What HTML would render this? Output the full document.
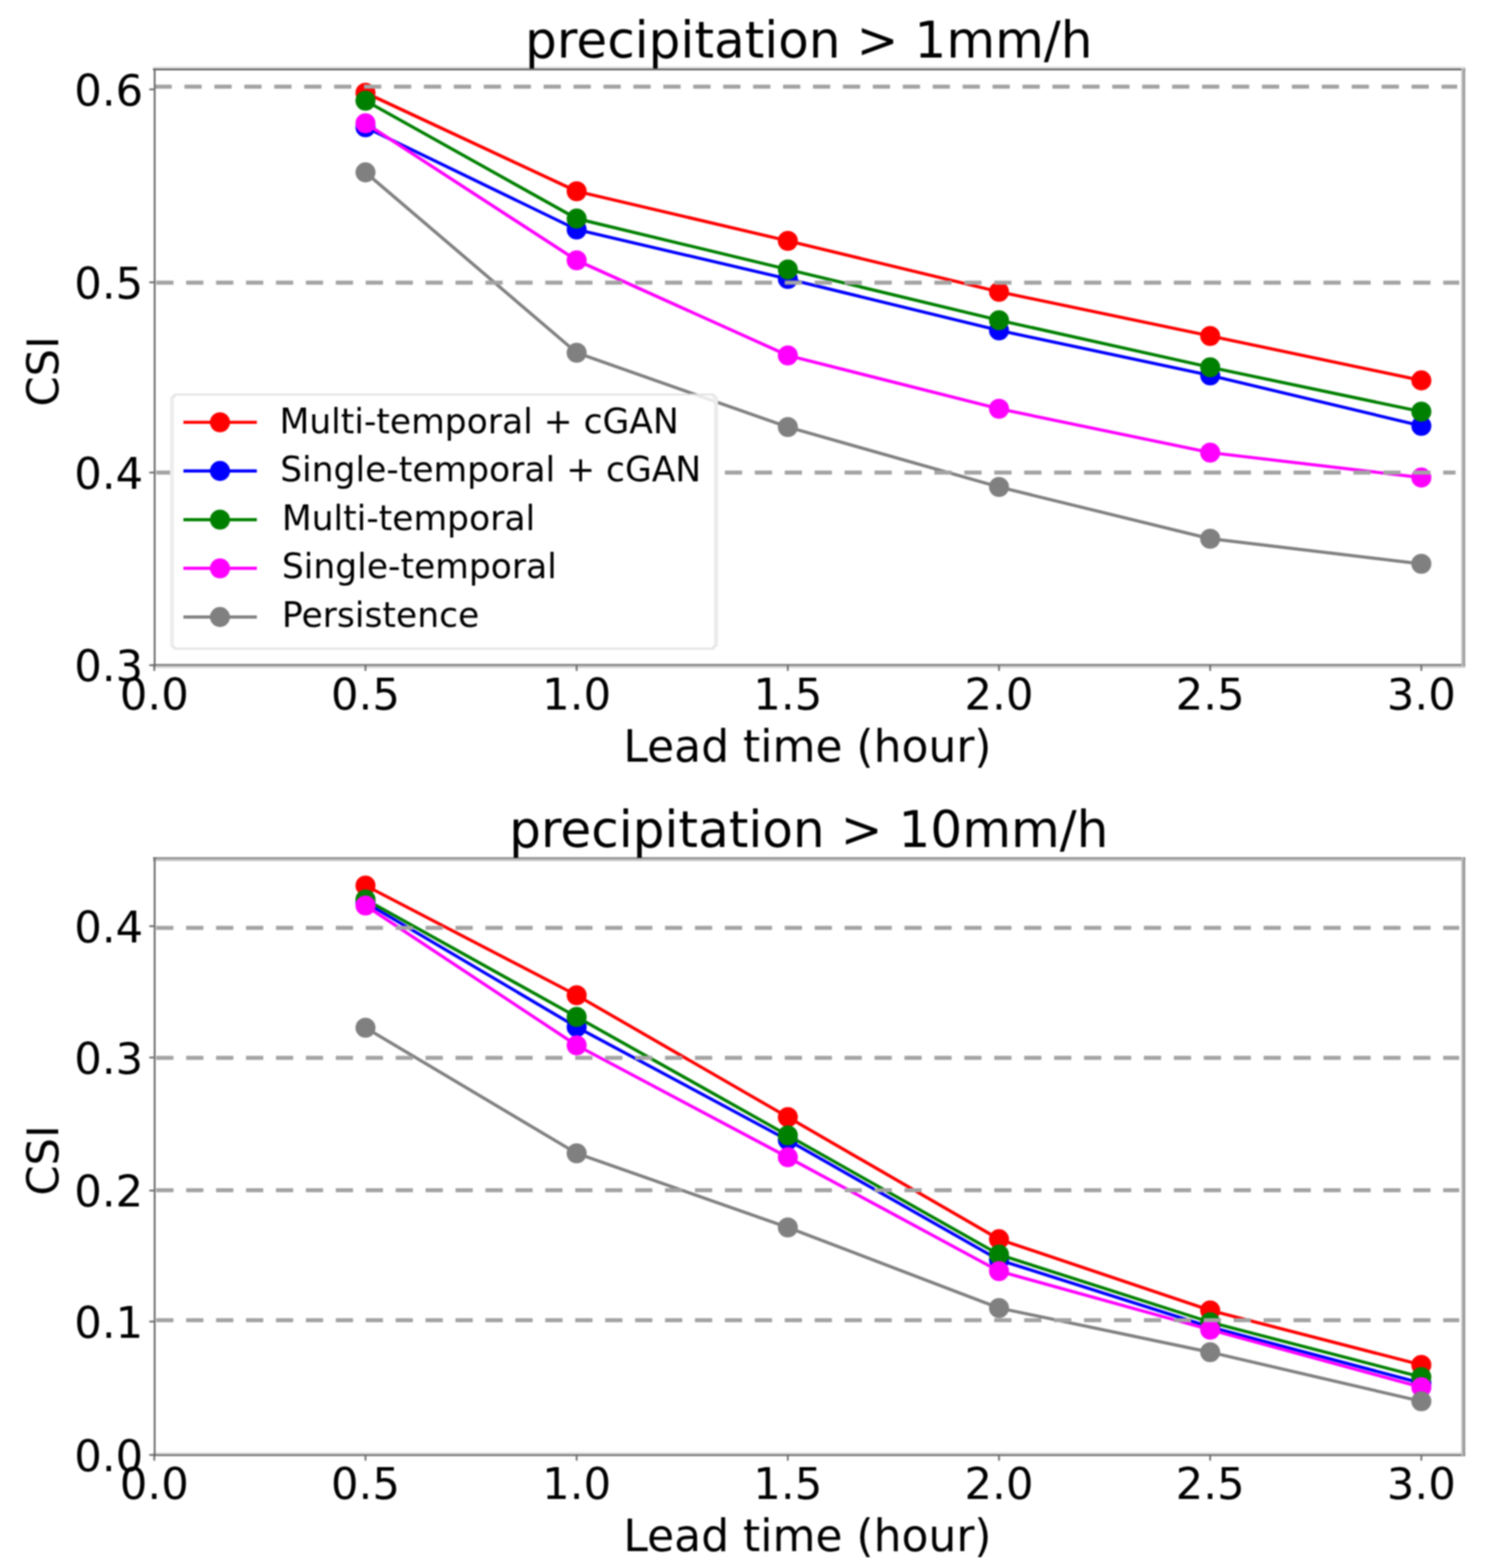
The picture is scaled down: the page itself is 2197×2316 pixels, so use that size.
<!DOCTYPE html>
<html><head><meta charset="utf-8"><title>CSI vs lead time</title>
<style>
html,body{margin:0;padding:0;background:#fff;}
body{width:2197px;height:2316px;overflow:hidden;}
svg{display:block;filter:blur(0.9px);}
text{font-family:"DejaVu Sans", "Liberation Sans", sans-serif;fill:#000;}
</style></head>
<body>
<svg width="2197" height="2316" viewBox="0 0 2197 2316">
<rect x="0" y="0" width="2197" height="2316" fill="#ffffff"/>
<polyline points="540,137 852,282.5 1164,355.7 1476,431 1788,496.2 2100,561.9" fill="none" stroke="#ff0000" stroke-width="4.7" stroke-linejoin="round" stroke-linecap="butt"/>
<circle cx="540" cy="137" r="14.8" fill="#ff0000"/>
<circle cx="852" cy="282.5" r="14.8" fill="#ff0000"/>
<circle cx="1164" cy="355.7" r="14.8" fill="#ff0000"/>
<circle cx="1476" cy="431" r="14.8" fill="#ff0000"/>
<circle cx="1788" cy="496.2" r="14.8" fill="#ff0000"/>
<circle cx="2100" cy="561.9" r="14.8" fill="#ff0000"/>
<polyline points="540,188 852,339 1164,412 1476,488 1788,554.5 2100,629" fill="none" stroke="#0000ff" stroke-width="4.7" stroke-linejoin="round" stroke-linecap="butt"/>
<circle cx="540" cy="188" r="14.8" fill="#0000ff"/>
<circle cx="852" cy="339" r="14.8" fill="#0000ff"/>
<circle cx="1164" cy="412" r="14.8" fill="#0000ff"/>
<circle cx="1476" cy="488" r="14.8" fill="#0000ff"/>
<circle cx="1788" cy="554.5" r="14.8" fill="#0000ff"/>
<circle cx="2100" cy="629" r="14.8" fill="#0000ff"/>
<polyline points="540,148.7 852,322.9 1164,398 1476,473 1788,542.5 2100,608" fill="none" stroke="#008000" stroke-width="4.7" stroke-linejoin="round" stroke-linecap="butt"/>
<circle cx="540" cy="148.7" r="14.8" fill="#008000"/>
<circle cx="852" cy="322.9" r="14.8" fill="#008000"/>
<circle cx="1164" cy="398" r="14.8" fill="#008000"/>
<circle cx="1476" cy="473" r="14.8" fill="#008000"/>
<circle cx="1788" cy="542.5" r="14.8" fill="#008000"/>
<circle cx="2100" cy="608" r="14.8" fill="#008000"/>
<polyline points="540,182 852,384.5 1164,525 1476,603.7 1788,668.5 2100,705.4" fill="none" stroke="#ff00ff" stroke-width="4.7" stroke-linejoin="round" stroke-linecap="butt"/>
<circle cx="540" cy="182" r="14.8" fill="#ff00ff"/>
<circle cx="852" cy="384.5" r="14.8" fill="#ff00ff"/>
<circle cx="1164" cy="525" r="14.8" fill="#ff00ff"/>
<circle cx="1476" cy="603.7" r="14.8" fill="#ff00ff"/>
<circle cx="1788" cy="668.5" r="14.8" fill="#ff00ff"/>
<circle cx="2100" cy="705.4" r="14.8" fill="#ff00ff"/>
<polyline points="540,254.6 852,521 1164,630.8 1476,719.3 1788,795.7 2100,832.8" fill="none" stroke="#808080" stroke-width="4.7" stroke-linejoin="round" stroke-linecap="butt"/>
<circle cx="540" cy="254.6" r="14.8" fill="#808080"/>
<circle cx="852" cy="521" r="14.8" fill="#808080"/>
<circle cx="1164" cy="630.8" r="14.8" fill="#808080"/>
<circle cx="1476" cy="719.3" r="14.8" fill="#808080"/>
<circle cx="1788" cy="795.7" r="14.8" fill="#808080"/>
<circle cx="2100" cy="832.8" r="14.8" fill="#808080"/>
<line x1="228.3" y1="128" x2="2153" y2="128" stroke="#a3a3a3" stroke-width="5.8" stroke-dasharray="25.5 18.72"/>
<line x1="230.8" y1="417.5" x2="2156" y2="417.5" stroke="#a3a3a3" stroke-width="5.8" stroke-dasharray="25.5 18.72"/>
<line x1="230.8" y1="698" x2="2150.5" y2="698" stroke="#a3a3a3" stroke-width="5.8" stroke-dasharray="25.5 18.72"/>
<line x1="226" y1="99.3" x2="2165" y2="99.3" stroke="#e6e6e6" stroke-width="2.7"/>
<line x1="226" y1="102.5" x2="2165" y2="102.5" stroke="#6e6e6e" stroke-width="2.8"/>
<line x1="226" y1="985.2" x2="2165" y2="985.2" stroke="#cccccc" stroke-width="2.6"/>
<line x1="226" y1="982.1" x2="2165" y2="982.1" stroke="#777777" stroke-width="2.9"/>
<line x1="228.5" y1="101" x2="228.5" y2="984" stroke="#6a6a6a" stroke-width="2.7"/>
<line x1="2160.6" y1="101" x2="2160.6" y2="984" stroke="#bbbbbb" stroke-width="3.0"/>
<line x1="2163.4" y1="101" x2="2163.4" y2="984" stroke="#999999" stroke-width="2.8"/>
<line x1="220.5" y1="132" x2="228" y2="132" stroke="#6a6a6a" stroke-width="2.6"/>
<text x="211.5" y="155.5" text-anchor="end" font-size="64">0.6</text>
<line x1="220.5" y1="417" x2="228" y2="417" stroke="#6a6a6a" stroke-width="2.6"/>
<text x="211.5" y="440.5" text-anchor="end" font-size="64">0.5</text>
<line x1="220.5" y1="698" x2="228" y2="698" stroke="#6a6a6a" stroke-width="2.6"/>
<text x="211.5" y="721.5" text-anchor="end" font-size="64">0.4</text>
<line x1="220.5" y1="982.5" x2="228" y2="982.5" stroke="#6a6a6a" stroke-width="2.6"/>
<text x="211.5" y="1006.0" text-anchor="end" font-size="64">0.3</text>
<line x1="228" y1="982.5" x2="228" y2="991.0" stroke="#6a6a6a" stroke-width="2.6"/>
<text x="228" y="1048" text-anchor="middle" font-size="64">0.0</text>
<line x1="540" y1="982.5" x2="540" y2="991.0" stroke="#6a6a6a" stroke-width="2.6"/>
<text x="540" y="1048" text-anchor="middle" font-size="64">0.5</text>
<line x1="852" y1="982.5" x2="852" y2="991.0" stroke="#6a6a6a" stroke-width="2.6"/>
<text x="852" y="1048" text-anchor="middle" font-size="64">1.0</text>
<line x1="1164" y1="982.5" x2="1164" y2="991.0" stroke="#6a6a6a" stroke-width="2.6"/>
<text x="1164" y="1048" text-anchor="middle" font-size="64">1.5</text>
<line x1="1476" y1="982.5" x2="1476" y2="991.0" stroke="#6a6a6a" stroke-width="2.6"/>
<text x="1476" y="1048" text-anchor="middle" font-size="64">2.0</text>
<line x1="1788" y1="982.5" x2="1788" y2="991.0" stroke="#6a6a6a" stroke-width="2.6"/>
<text x="1788" y="1048" text-anchor="middle" font-size="64">2.5</text>
<line x1="2100" y1="982.5" x2="2100" y2="991.0" stroke="#6a6a6a" stroke-width="2.6"/>
<text x="2100" y="1048" text-anchor="middle" font-size="64">3.0</text>
<text x="1195.0" y="84.7" text-anchor="middle" font-size="74">precipitation &gt; 1mm/h</text>
<text x="1193.0" y="1124.5" text-anchor="middle" font-size="65">Lead time (hour)</text>
<text transform="translate(85.5,548.5) rotate(-90)" x="0" y="0" text-anchor="middle" font-size="64">CSI</text>
<clipPath id="legclip"><rect x="253.5" y="582.5" width="804.5" height="375.0" rx="7" ry="7"/></clipPath>
<rect x="253.5" y="582.5" width="804.5" height="375.0" rx="7" ry="7" fill="#ffffff" stroke="none"/>
<polyline clip-path="url(#legclip)" points="852,521 1164,630.8" fill="none" stroke="#808080" stroke-opacity="0.18" stroke-width="4.7"/>
<line x1="257" y1="582.8" x2="1055" y2="582.8" stroke="#e0e0e0" stroke-width="2.4"/>
<line x1="257" y1="958.1" x2="1055" y2="958.1" stroke="#e2e2e2" stroke-width="2.6"/>
<line x1="254" y1="586" x2="254" y2="955" stroke="#ededed" stroke-width="5.7"/>
<line x1="1057.9" y1="586" x2="1057.9" y2="955" stroke="#ebebeb" stroke-width="6"/>
<circle cx="256.5" cy="585.5" r="2.6" fill="#e6e6e6"/>
<circle cx="1055" cy="585.5" r="2.6" fill="#e6e6e6"/>
<circle cx="256.5" cy="955.5" r="2.6" fill="#e6e6e6"/>
<circle cx="1055" cy="955.5" r="2.6" fill="#e6e6e6"/>
<line x1="271" y1="623.75" x2="379.5" y2="623.75" stroke="#ff0000" stroke-width="4.7"/>
<circle cx="325" cy="623.75" r="14.8" fill="#ff0000"/>
<text x="413" y="640.3" font-size="51">Multi-temporal + cGAN</text>
<line x1="271" y1="695.65" x2="379.5" y2="695.65" stroke="#0000ff" stroke-width="4.7"/>
<circle cx="325" cy="695.65" r="14.8" fill="#0000ff"/>
<text x="414" y="711.3" font-size="51">Single-temporal + cGAN</text>
<line x1="271" y1="767.55" x2="379.5" y2="767.55" stroke="#008000" stroke-width="4.7"/>
<circle cx="325" cy="767.55" r="14.8" fill="#008000"/>
<text x="416.5" y="782.9" font-size="51">Multi-temporal</text>
<line x1="271" y1="839.45" x2="379.5" y2="839.45" stroke="#ff00ff" stroke-width="4.7"/>
<circle cx="325" cy="839.45" r="14.8" fill="#ff00ff"/>
<text x="416.5" y="854.2" font-size="51">Single-temporal</text>
<line x1="271" y1="911.35" x2="379.5" y2="911.35" stroke="#808080" stroke-width="4.7"/>
<circle cx="325" cy="911.35" r="14.8" fill="#808080"/>
<text x="416.5" y="926.2" font-size="51">Persistence</text>
<polyline points="540,1308 852,1470 1164,1650 1476,1830.4 1788,1935.5 2100,2016" fill="none" stroke="#ff0000" stroke-width="4.7" stroke-linejoin="round" stroke-linecap="butt"/>
<circle cx="540" cy="1308" r="14.8" fill="#ff0000"/>
<circle cx="852" cy="1470" r="14.8" fill="#ff0000"/>
<circle cx="1164" cy="1650" r="14.8" fill="#ff0000"/>
<circle cx="1476" cy="1830.4" r="14.8" fill="#ff0000"/>
<circle cx="1788" cy="1935.5" r="14.8" fill="#ff0000"/>
<circle cx="2100" cy="2016" r="14.8" fill="#ff0000"/>
<polyline points="540,1333 852,1517 1164,1684 1476,1861 1788,1960 2100,2043" fill="none" stroke="#0000ff" stroke-width="4.7" stroke-linejoin="round" stroke-linecap="butt"/>
<circle cx="540" cy="1333" r="14.8" fill="#0000ff"/>
<circle cx="852" cy="1517" r="14.8" fill="#0000ff"/>
<circle cx="1164" cy="1684" r="14.8" fill="#0000ff"/>
<circle cx="1476" cy="1861" r="14.8" fill="#0000ff"/>
<circle cx="1788" cy="1960" r="14.8" fill="#0000ff"/>
<circle cx="2100" cy="2043" r="14.8" fill="#0000ff"/>
<polyline points="540,1328.5 852,1502 1164,1677 1476,1853 1788,1953 2100,2034" fill="none" stroke="#008000" stroke-width="4.7" stroke-linejoin="round" stroke-linecap="butt"/>
<circle cx="540" cy="1328.5" r="14.8" fill="#008000"/>
<circle cx="852" cy="1502" r="14.8" fill="#008000"/>
<circle cx="1164" cy="1677" r="14.8" fill="#008000"/>
<circle cx="1476" cy="1853" r="14.8" fill="#008000"/>
<circle cx="1788" cy="1953" r="14.8" fill="#008000"/>
<circle cx="2100" cy="2034" r="14.8" fill="#008000"/>
<polyline points="540,1337.5 852,1544 1164,1709.3 1476,1877.5 1788,1964 2100,2049" fill="none" stroke="#ff00ff" stroke-width="4.7" stroke-linejoin="round" stroke-linecap="butt"/>
<circle cx="540" cy="1337.5" r="14.8" fill="#ff00ff"/>
<circle cx="852" cy="1544" r="14.8" fill="#ff00ff"/>
<circle cx="1164" cy="1709.3" r="14.8" fill="#ff00ff"/>
<circle cx="1476" cy="1877.5" r="14.8" fill="#ff00ff"/>
<circle cx="1788" cy="1964" r="14.8" fill="#ff00ff"/>
<circle cx="2100" cy="2049" r="14.8" fill="#ff00ff"/>
<polyline points="540,1518 852,1703.5 1164,1813 1476,1932 1788,1997.3 2100,2069.8" fill="none" stroke="#808080" stroke-width="4.7" stroke-linejoin="round" stroke-linecap="butt"/>
<circle cx="540" cy="1518" r="14.8" fill="#808080"/>
<circle cx="852" cy="1703.5" r="14.8" fill="#808080"/>
<circle cx="1164" cy="1813" r="14.8" fill="#808080"/>
<circle cx="1476" cy="1932" r="14.8" fill="#808080"/>
<circle cx="1788" cy="1997.3" r="14.8" fill="#808080"/>
<circle cx="2100" cy="2069.8" r="14.8" fill="#808080"/>
<line x1="230.8" y1="1370.5" x2="2156" y2="1370.5" stroke="#a3a3a3" stroke-width="5.8" stroke-dasharray="25.5 18.72"/>
<line x1="230.8" y1="1562.5" x2="2156" y2="1562.5" stroke="#a3a3a3" stroke-width="5.8" stroke-dasharray="25.5 18.72"/>
<line x1="230.8" y1="1758" x2="2156" y2="1758" stroke="#a3a3a3" stroke-width="5.8" stroke-dasharray="25.5 18.72"/>
<line x1="230.8" y1="1950" x2="2156" y2="1950" stroke="#a3a3a3" stroke-width="5.8" stroke-dasharray="25.5 18.72"/>
<line x1="226" y1="1267.4" x2="2165" y2="1267.4" stroke="#8c8c8c" stroke-width="2.9"/>
<line x1="226" y1="1270.3" x2="2165" y2="1270.3" stroke="#c0c0c0" stroke-width="2.8"/>
<line x1="226" y1="2146.6" x2="2165" y2="2146.6" stroke="#d8d8d8" stroke-width="2.7"/>
<line x1="226" y1="2149.4" x2="2165" y2="2149.4" stroke="#777777" stroke-width="2.8"/>
<line x1="228.5" y1="1266" x2="228.5" y2="2151" stroke="#6a6a6a" stroke-width="2.7"/>
<line x1="2160.6" y1="1266" x2="2160.6" y2="2150" stroke="#bbbbbb" stroke-width="3.0"/>
<line x1="2163.4" y1="1266" x2="2163.4" y2="2150" stroke="#919191" stroke-width="2.8"/>
<line x1="220.5" y1="1368" x2="228" y2="1368" stroke="#6a6a6a" stroke-width="2.6"/>
<text x="211.5" y="1391.5" text-anchor="end" font-size="64">0.4</text>
<line x1="220.5" y1="1562" x2="228" y2="1562" stroke="#6a6a6a" stroke-width="2.6"/>
<text x="211.5" y="1585.5" text-anchor="end" font-size="64">0.3</text>
<line x1="220.5" y1="1758.5" x2="228" y2="1758.5" stroke="#6a6a6a" stroke-width="2.6"/>
<text x="211.5" y="1782.0" text-anchor="end" font-size="64">0.2</text>
<line x1="220.5" y1="1952" x2="228" y2="1952" stroke="#6a6a6a" stroke-width="2.6"/>
<text x="211.5" y="1975.5" text-anchor="end" font-size="64">0.1</text>
<line x1="220.5" y1="2149" x2="228" y2="2149" stroke="#6a6a6a" stroke-width="2.6"/>
<text x="211.5" y="2172.5" text-anchor="end" font-size="64">0.0</text>
<line x1="228" y1="2149" x2="228" y2="2157.5" stroke="#6a6a6a" stroke-width="2.6"/>
<text x="228" y="2213.5" text-anchor="middle" font-size="64">0.0</text>
<line x1="540" y1="2149" x2="540" y2="2157.5" stroke="#6a6a6a" stroke-width="2.6"/>
<text x="540" y="2213.5" text-anchor="middle" font-size="64">0.5</text>
<line x1="852" y1="2149" x2="852" y2="2157.5" stroke="#6a6a6a" stroke-width="2.6"/>
<text x="852" y="2213.5" text-anchor="middle" font-size="64">1.0</text>
<line x1="1164" y1="2149" x2="1164" y2="2157.5" stroke="#6a6a6a" stroke-width="2.6"/>
<text x="1164" y="2213.5" text-anchor="middle" font-size="64">1.5</text>
<line x1="1476" y1="2149" x2="1476" y2="2157.5" stroke="#6a6a6a" stroke-width="2.6"/>
<text x="1476" y="2213.5" text-anchor="middle" font-size="64">2.0</text>
<line x1="1788" y1="2149" x2="1788" y2="2157.5" stroke="#6a6a6a" stroke-width="2.6"/>
<text x="1788" y="2213.5" text-anchor="middle" font-size="64">2.5</text>
<line x1="2100" y1="2149" x2="2100" y2="2157.5" stroke="#6a6a6a" stroke-width="2.6"/>
<text x="2100" y="2213.5" text-anchor="middle" font-size="64">3.0</text>
<text x="1195.0" y="1251" text-anchor="middle" font-size="74">precipitation &gt; 10mm/h</text>
<text x="1193.0" y="2291" text-anchor="middle" font-size="65">Lead time (hour)</text>
<text transform="translate(85.5,1714) rotate(-90)" x="0" y="0" text-anchor="middle" font-size="64">CSI</text>
</svg>
</body></html>
